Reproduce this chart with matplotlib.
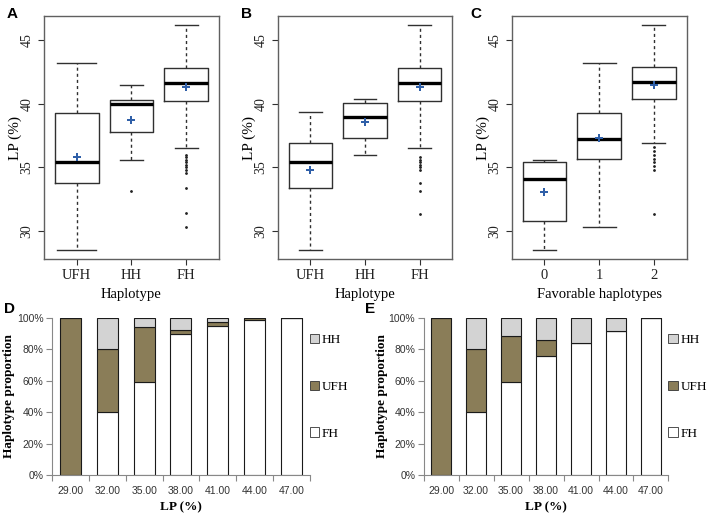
import matplotlib
matplotlib.use("Agg")
import matplotlib.pyplot as plt
import numpy as np

# ---------------- data ----------------
hap_labels = ["UFH", "HH", "FH"]
fav_labels = ["0", "1", "2"]

# panel A summary stats: whislo, q1, med, q3, whishi, mean
A_whislo = [28.5, 35.6, 36.5]
A_q1 = [33.8, 37.8, 40.25]
A_med = [35.4, 40.0, 41.6]
A_q3 = [39.3, 40.3, 42.8]
A_whishi = [43.2, 41.5, 46.2]
A_mean = [35.8, 38.75, 41.3]
A_fliers = [[], [33.15], [36.0, 35.8, 35.6, 35.4, 35.2, 35.0, 34.8, 34.6, 33.35, 31.4, 30.3]]
A_caps = [0.72, 0.42, 0.42]

# panel B
B_whislo = [28.5, 35.95, 36.5]
B_q1 = [33.35, 37.35, 40.25]
B_med = [35.4, 38.95, 41.65]
B_q3 = [36.9, 40.1, 42.8]
B_whishi = [39.35, 40.35, 46.2]
B_mean = [34.8, 38.6, 41.3]
B_fliers = [[], [], [35.8, 35.6, 35.4, 35.2, 35.0, 34.8, 33.8, 33.15, 31.35]]
B_caps = [0.42, 0.42, 0.42]

# panel C
C_whislo = [28.5, 30.3, 36.95]
C_q1 = [30.8, 35.65, 40.4]
C_med = [34.1, 37.25, 41.75]
C_q3 = [35.4, 39.3, 42.9]
C_whishi = [35.6, 43.2, 46.2]
C_mean = [33.1, 37.3, 41.5]
C_fliers = [[], [], [36.6, 36.3, 36.0, 35.7, 35.4, 35.1, 34.8, 31.35]]
C_caps = [0.42, 0.6, 0.42]

# panels D / E: haplotype proportions per LP bin
lp_bins = ["29.00", "32.00", "35.00", "38.00", "41.00", "44.00", "47.00"]
D_FH = [0.0, 0.40, 0.59, 0.895, 0.95, 0.987, 1.0]
D_UFH = [1.0, 0.40, 0.35, 0.025, 0.02, 0.01, 0.0]
D_HH = [0.0, 0.20, 0.06, 0.08, 0.03, 0.003, 0.0]
E_FH = [0.0, 0.40, 0.59, 0.755, 0.84, 0.915, 1.0]
E_UFH = [1.0, 0.40, 0.293, 0.102, 0.0, 0.0, 0.0]
E_HH = [0.0, 0.20, 0.117, 0.143, 0.16, 0.085, 0.0]
y_ticks_pct = ["0%", "20%", "40%", "60%", "80%", "100%"]

# ---------------- style ----------------
SERIF = ["Liberation Serif", "DejaVu Serif"]
SANS = ["Liberation Sans", "DejaVu Sans"]
OLIVE = "#8a7d58"
LGRAY = "#d3d3d3"
BLUE = "#2f5fa8"
FRAME = "#606060"

fig = plt.figure(figsize=(7.08, 5.16), dpi=100)


def box_panel(rect, labels, whislo, q1, med, q3, whishi, mean, fliers, caps, xlabel, letter, letter_x):
    ax = fig.add_axes(rect)
    stats = []
    for i in range(len(labels)):
        stats.append(dict(whislo=whislo[i], q1=q1[i], med=med[i], q3=q3[i],
                          whishi=whishi[i], mean=mean[i], fliers=fliers[i], label=labels[i]))
    ax.bxp(stats, positions=[1, 2, 3], widths=0.8, capwidths=caps, showmeans=True,
           boxprops=dict(color="#303030", lw=1.0),
           whiskerprops=dict(color="#303030", lw=1.0, linestyle=(0, (2.2, 2.2))),
           capprops=dict(color="#303030", lw=1.0),
           medianprops=dict(color="black", lw=2.4),
           meanprops=dict(marker="P", markersize=6, markerfacecolor=BLUE,
                          markeredgecolor=BLUE, markeredgewidth=0),
           flierprops=dict(marker="o", markersize=1.0, markerfacecolor="#222222",
                           markeredgecolor="#222222", linestyle="none"))
    ax.set_xlim(0.4, 3.6)
    ax.set_ylim(27.8, 46.9)
    ax.set_yticks([30, 35, 40, 45])
    ax.set_yticklabels(["30", "35", "40", "45"], rotation=90, va="center",
                       fontsize=10, family=SERIF)
    ax.set_xticks([1, 2, 3])
    ax.set_xticklabels(labels, fontsize=10.5, family=SERIF)
    ax.set_ylabel("LP (%)", fontsize=11, family=SERIF)
    ax.yaxis.set_label_coords(-0.125, 0.5)
    ax.set_xlabel(xlabel, fontsize=10.5, family=SERIF, labelpad=4)
    for s in ax.spines.values():
        s.set_color(FRAME)
        s.set_linewidth(1.0)
    ax.tick_params(axis="both", colors="#303030", length=4, width=0.8, labelcolor="#222222")
    fig.text(letter_x, 0.973, letter, fontsize=11, fontweight="bold", family=SANS,
             ha="left", va="center")
    return ax


box_panel([0.0621, 0.498, 0.2472, 0.471], hap_labels, A_whislo, A_q1, A_med, A_q3,
          A_whishi, A_mean, A_fliers, A_caps, "Haplotype", "A", 0.010)
box_panel([0.3922, 0.498, 0.2466, 0.471], hap_labels, B_whislo, B_q1, B_med, B_q3,
          B_whishi, B_mean, B_fliers, B_caps, "Haplotype", "B", 0.341)
box_panel([0.7227, 0.498, 0.2472, 0.471], fav_labels, C_whislo, C_q1, C_med, C_q3,
          C_whishi, C_mean, C_fliers, C_caps, "Favorable haplotypes", "C", 0.665)


def bar_panel(rect, FH, UFH, HH, letter, letter_x, ylab_x):
    ax = fig.add_axes(rect)
    x = np.arange(len(lp_bins))
    w = 0.57
    kw = dict(width=w, edgecolor="#1a1a1a", linewidth=0.8)
    ax.bar(x, FH, color="white", label="FH", **kw)
    ax.bar(x, UFH, bottom=FH, color=OLIVE, label="UFH", **kw)
    bottom2 = [a + b for a, b in zip(FH, UFH)]
    ax.bar(x, HH, bottom=bottom2, color=LGRAY, label="HH", **kw)
    ax.set_xlim(-0.5, len(lp_bins) - 0.5)
    ax.set_ylim(0, 1.0)
    ax.set_yticks(np.linspace(0, 1, 6))
    ax.set_yticklabels(y_ticks_pct, fontsize=7.5, family=SANS, color="#333333")
    ax.set_xticks(x)
    ax.set_xticklabels(lp_bins, fontsize=7.5, family=SANS, color="#333333")
    ax.set_xticks(np.arange(-0.5, len(lp_bins)), minor=True)
    ax.tick_params(axis="x", which="major", length=0, pad=8)
    ax.tick_params(axis="x", which="minor", length=4, width=0.8, color="#888888")
    ax.tick_params(axis="y", length=4, width=0.8, color="#888888", pad=2)
    for side in ["top", "right"]:
        ax.spines[side].set_visible(False)
    for side in ["left", "bottom"]:
        ax.spines[side].set_color("#888888")
        ax.spines[side].set_linewidth(0.8)
    ax.set_ylabel("Haplotype proportion", fontsize=9.5, fontweight="bold", family=SERIF)
    ax.yaxis.set_label_coords(ylab_x, 0.5)
    ax.set_xlabel("LP (%)", fontsize=9.5, fontweight="bold", family=SERIF, labelpad=4)
    handles, labels = ax.get_legend_handles_labels()
    leg = ax.legend(handles[::-1], labels[::-1], loc="center left",
                    bbox_to_anchor=(1.0, 0.56), frameon=False,
                    prop=dict(family=SERIF, size=9.5), handlelength=0.7, handleheight=0.7,
                    handletextpad=0.2, labelspacing=2.6, borderaxespad=0.0, borderpad=0.0)
    for h in leg.legend_handles:
        h.set_linewidth(0.6)
        h.set_edgecolor("#333333")
    fig.text(letter_x, 0.402, letter, fontsize=11, fontweight="bold", family=SANS,
             ha="left", va="center")
    return ax


bar_panel([0.0734, 0.0795, 0.3644, 0.3048], D_FH, D_UFH, D_HH, "D", 0.006, -0.142)
bar_panel([0.5982, 0.0795, 0.3460, 0.3048], E_FH, E_UFH, E_HH, "E", 0.515, -0.145)

fig.savefig("out.png", dpi=100)
